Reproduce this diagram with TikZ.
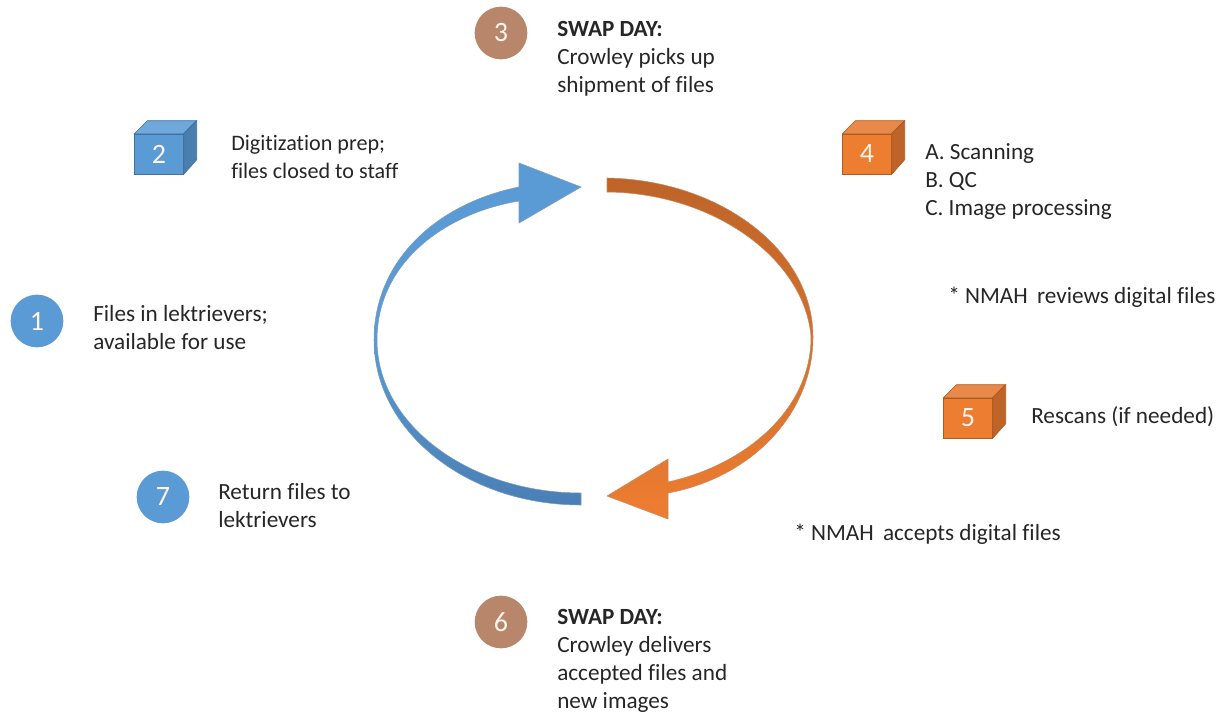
\documentclass[tikz,border=0pt]{standalone}
\usepackage{fontspec}
\setmainfont[Ligatures=NoCommon]{Carlito}
\definecolor{bluef}{HTML}{5B9BD5}
\definecolor{blueedge}{HTML}{41719C}
\definecolor{blued}{HTML}{4A7FB5}
\definecolor{bluetop}{HTML}{6FA8DC}
\definecolor{blueside}{HTML}{4A7EAE}
\definecolor{orangef}{HTML}{ED7D31}
\definecolor{orangeedge}{HTML}{AE5A21}
\definecolor{oranged}{HTML}{BE6429}
\definecolor{orangetop}{HTML}{E8894A}
\definecolor{orangeside}{HTML}{BE6428}
\definecolor{brownf}{HTML}{B8866B}
\definecolor{txt}{HTML}{262626}
\tikzset{
  x=0.75pt,y=-0.75pt,
  lbl/.style={anchor=north west,inner sep=0pt,align=left,font=\fontsize{17.4}{21}\selectfont,text=txt},
  num/.style={font=\fontsize{21}{21}\selectfont,text=white!92!orange},
  disc/.style={circle,minimum size=39.5pt,inner sep=0pt,fill=#1,num},
  facebox/.style={rectangle,minimum width=36.5pt,minimum height=30pt,inner sep=0pt,fill=#1,num},
}
% #1 name, #2 cx, #3 cy, #4 text, #5 colour base, #6 top, #7 side, #8 edge
\newcommand{\cubeshape}[8]{
  \node[facebox=#5,draw=#8,line width=.5pt] (#1) at (#2,#3) {#4};
  \fill[#6,draw=#8,line width=.5pt] (#1.north west) -- ++(13,-13) -- ++(49,0) -- (#1.north east) -- cycle;
  \fill[#7,draw=#8,line width=.5pt] (#1.north east) -- ++(13,-13) -- ++(0,39) -- (#1.south east) -- cycle;
}
\begin{document}
\begin{tikzpicture}
\useasboundingbox (0,0) rectangle (1227,717);
% blue arrow
\path[top color=bluef,bottom color=blued,middle color=bluef,draw=blueedge!70,line width=.4pt]
  (581,505) .. controls (465,505) and (374,430) .. (374,340)
  .. controls (374,262) and (435,204) .. (519,187)
  -- (519,163) -- (581,187) -- (519,223) -- (519,201)
  .. controls (446,213) and (377,262) .. (377,340)
  .. controls (377,425) and (470,493) .. (581,493) -- cycle;
% orange arrow
\path[top color=oranged,bottom color=orangef,draw=orangeedge!70,line width=.4pt]
  (607,178) .. controls (720,180) and (813,250) .. (813,337)
  .. controls (813,415) and (750,478) .. (668,493)
  -- (668,519) -- (607,496) -- (668,459) -- (668,482)
  .. controls (745,465) and (811,410) .. (811,337)
  .. controls (805,260) and (715,193) .. (607,192) -- cycle;
% steps
\node[disc=bluef] (n1) at (37,321) {1};
\cubeshape{n2}{159}{154}{2}{bluef}{bluetop}{blueside}{blueedge}
\node[disc=brownf] (n3) at (501,33) {3};
\cubeshape{n4}{867}{154}{4}{orangef}{orangetop}{orangeside}{orangeedge}
\cubeshape{n5}{968}{418}{5}{orangef}{orangetop}{orangeside}{orangeedge}
\node[disc=brownf] (n6) at (501,622) {6};
\node[disc=bluef] (n7) at (163,497) {7};
% labels
\node[lbl] (t1) at (93,305.5) {Files in lektrievers;\\available for use};
\node[lbl,font=\fontsize{16.6}{21}\selectfont] (t2) at (231,135) {Digitization prep;\\files closed to staff};
\node[lbl] (t3) at (557,21.5) {\textbf{SWAP DAY:}\\Crowley picks up\\shipment of files};
\node[lbl] (t4) at (925,143.5) {A. Scanning\\B. QC\\C. Image processing};
\node[lbl] (r1) at (948,286.5) {* NMAH\hspace{3pt} reviews digital files};
\node[lbl] (t5) at (1031,406) {Rescans (if needed)};
\node[lbl] (r2) at (794,523.5) {* NMAH\hspace{3pt} accepts digital files};
\node[lbl] (t6) at (557,609.5) {\textbf{SWAP DAY:}\\Crowley delivers\\accepted files and\\new images};
\node[lbl] (t7) at (218,483.5) {Return files to\\lektrievers};
\end{tikzpicture}
\end{document}
